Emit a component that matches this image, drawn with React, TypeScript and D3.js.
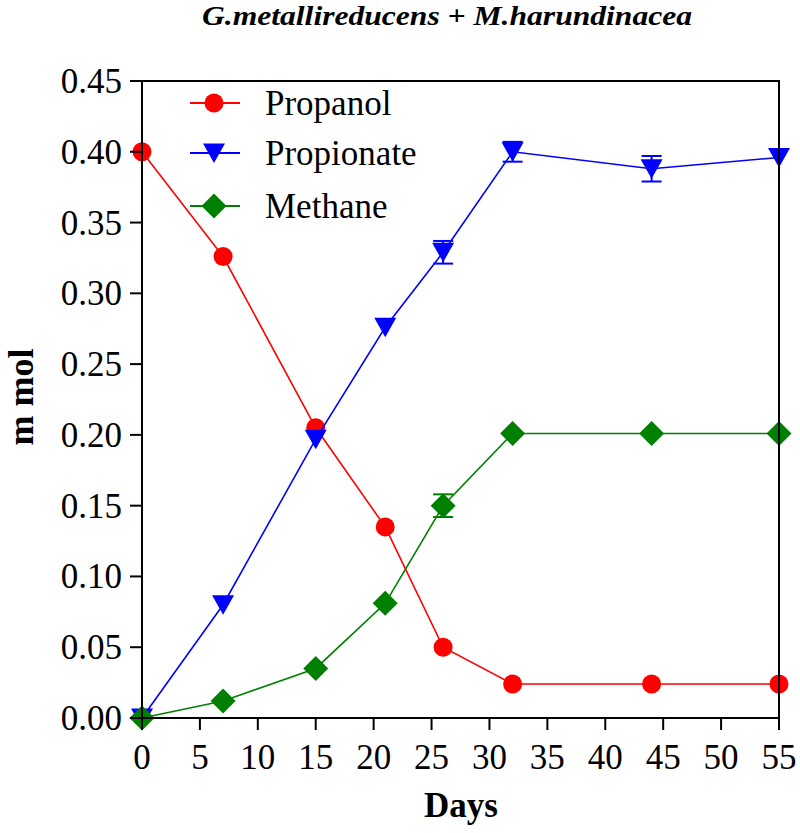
import React from "react";
import * as d3 from "d3";

const days = [0, 7, 15, 21, 26, 32, 44, 55];
const propanol = [0.4, 0.326, 0.205, 0.135, 0.05, 0.024, 0.024, 0.024];
const propionate = [0.0, 0.08, 0.197, 0.276, 0.329, 0.4, 0.388, 0.396];
const propionateErr = [0, 0, 0, 0, 0.008, 0.007, 0.009, 0];
const methane = [0.0, 0.012, 0.035, 0.081, 0.15, 0.201, 0.201, 0.201];
const methaneErr = [0, 0, 0, 0, 0.008, 0, 0, 0];
const xTicks = [0, 5, 10, 15, 20, 25, 30, 35, 40, 45, 50, 55];
const yTicks = [0, 0.05, 0.1, 0.15, 0.2, 0.25, 0.3, 0.35, 0.4, 0.45];
const seriesNames = ["Propanol", "Propionate", "Methane"];
const seriesColors = ["#ff0000", "#0000ff", "#008000"];

const W = 800;
const H = 833;
const left = 142;
const right = 779;
const top = 81;
const bottom = 718;

const x = d3.scaleLinear().domain([0, 55]).range([left, right]);
const y = d3.scaleLinear().domain([0, 0.45]).range([bottom, top]);

function Marker({ kind, cx, cy, color }: { kind: string; cx: number; cy: number; color: string }) {
  if (kind === "circle") return <circle cx={cx} cy={cy} r={9.5} fill={color} />;
  if (kind === "tri")
    return (
      <path
        d={`M${cx - 11},${cy - 9.5}L${cx + 11},${cy - 9.5}L${cx},${cy + 10}Z`}
        fill={color}
      />
    );
  return (
    <path
      d={`M${cx},${cy - 12.5}L${cx + 12.5},${cy}L${cx},${cy + 12.5}L${cx - 12.5},${cy}Z`}
      fill={color}
    />
  );
}

export default function App() {
  const line = d3
    .line<number>()
    .x((_, i) => x(days[i]))
    .y((v) => y(v));
  const series = [
    { vals: propanol, err: null as number[] | null, kind: "circle", color: seriesColors[0], name: seriesNames[0] },
    { vals: propionate, err: propionateErr, kind: "tri", color: seriesColors[1], name: seriesNames[1] },
    { vals: methane, err: methaneErr, kind: "diamond", color: seriesColors[2], name: seriesNames[2] },
  ];
  const legendY = [103, 153, 206];
  const serif = "'Liberation Serif', 'Times New Roman', serif";
  return (
    <svg
      width={W}
      height={H}
      style={{ position: "absolute", left: 0, top: 0, background: "#fff" }}
      fontFamily={serif}
    >
      <rect x={0} y={0} width={W} height={H} fill="#fff" />
      <text
        x={447}
        y={25}
        textAnchor="middle"
        fontSize={27}
        fontWeight="bold"
        fontStyle="italic"
        textLength={490}
        lengthAdjust="spacingAndGlyphs"
      >
        G.metallireducens + M.harundinacea
      </text>

      {series.map((s, si) => (
        <g key={si}>
          <path d={line(s.vals) || ""} fill="none" stroke={s.color} strokeWidth={1.6} />
          {s.err &&
            s.vals.map((v, i) =>
              s.err![i] > 0 ? (
                <g key={"e" + i} stroke={s.color} strokeWidth={2}>
                  <line x1={x(days[i])} x2={x(days[i])} y1={y(v - s.err![i])} y2={y(v + s.err![i])} />
                  <line x1={x(days[i]) - 10} x2={x(days[i]) + 10} y1={y(v - s.err![i])} y2={y(v - s.err![i])} />
                  <line x1={x(days[i]) - 10} x2={x(days[i]) + 10} y1={y(v + s.err![i])} y2={y(v + s.err![i])} />
                </g>
              ) : null
            )}
          {s.vals.map((v, i) => (
            <Marker key={i} kind={s.kind} cx={x(days[i])} cy={y(v)} color={s.color} />
          ))}
        </g>
      ))}

      <rect x={left} y={top} width={right - left} height={bottom - top} fill="none" stroke="#000" strokeWidth={2} />

      {yTicks.map((t) => (
        <g key={t}>
          <line x1={left - 12} x2={left} y1={y(t)} y2={y(t)} stroke="#000" strokeWidth={2} />
          <text x={122} y={y(t) + 12} textAnchor="end" fontSize={35}>
            {t.toFixed(2)}
          </text>
        </g>
      ))}
      {xTicks.map((t) => (
        <g key={t}>
          <line x1={x(t)} x2={x(t)} y1={bottom} y2={bottom + 12} stroke="#000" strokeWidth={2} />
          <text x={x(t)} y={769} textAnchor="middle" fontSize={35}>
            {t}
          </text>
        </g>
      ))}

      <text x={461} y={817} textAnchor="middle" fontSize={35} fontWeight="bold">
        Days
      </text>
      <text transform={`translate(33,397) rotate(-90)`} textAnchor="middle" fontSize={36} fontWeight="bold">
        m mol
      </text>

      {series.map((s, i) => (
        <g key={"l" + i}>
          <line x1={190} x2={240} y1={legendY[i]} y2={legendY[i]} stroke={s.color} strokeWidth={1.8} />
          <Marker kind={s.kind} cx={214} cy={legendY[i]} color={s.color} />
          <text x={265} y={legendY[i] + 12} fontSize={35}>
            {s.name}
          </text>
        </g>
      ))}
    </svg>
  );
}
